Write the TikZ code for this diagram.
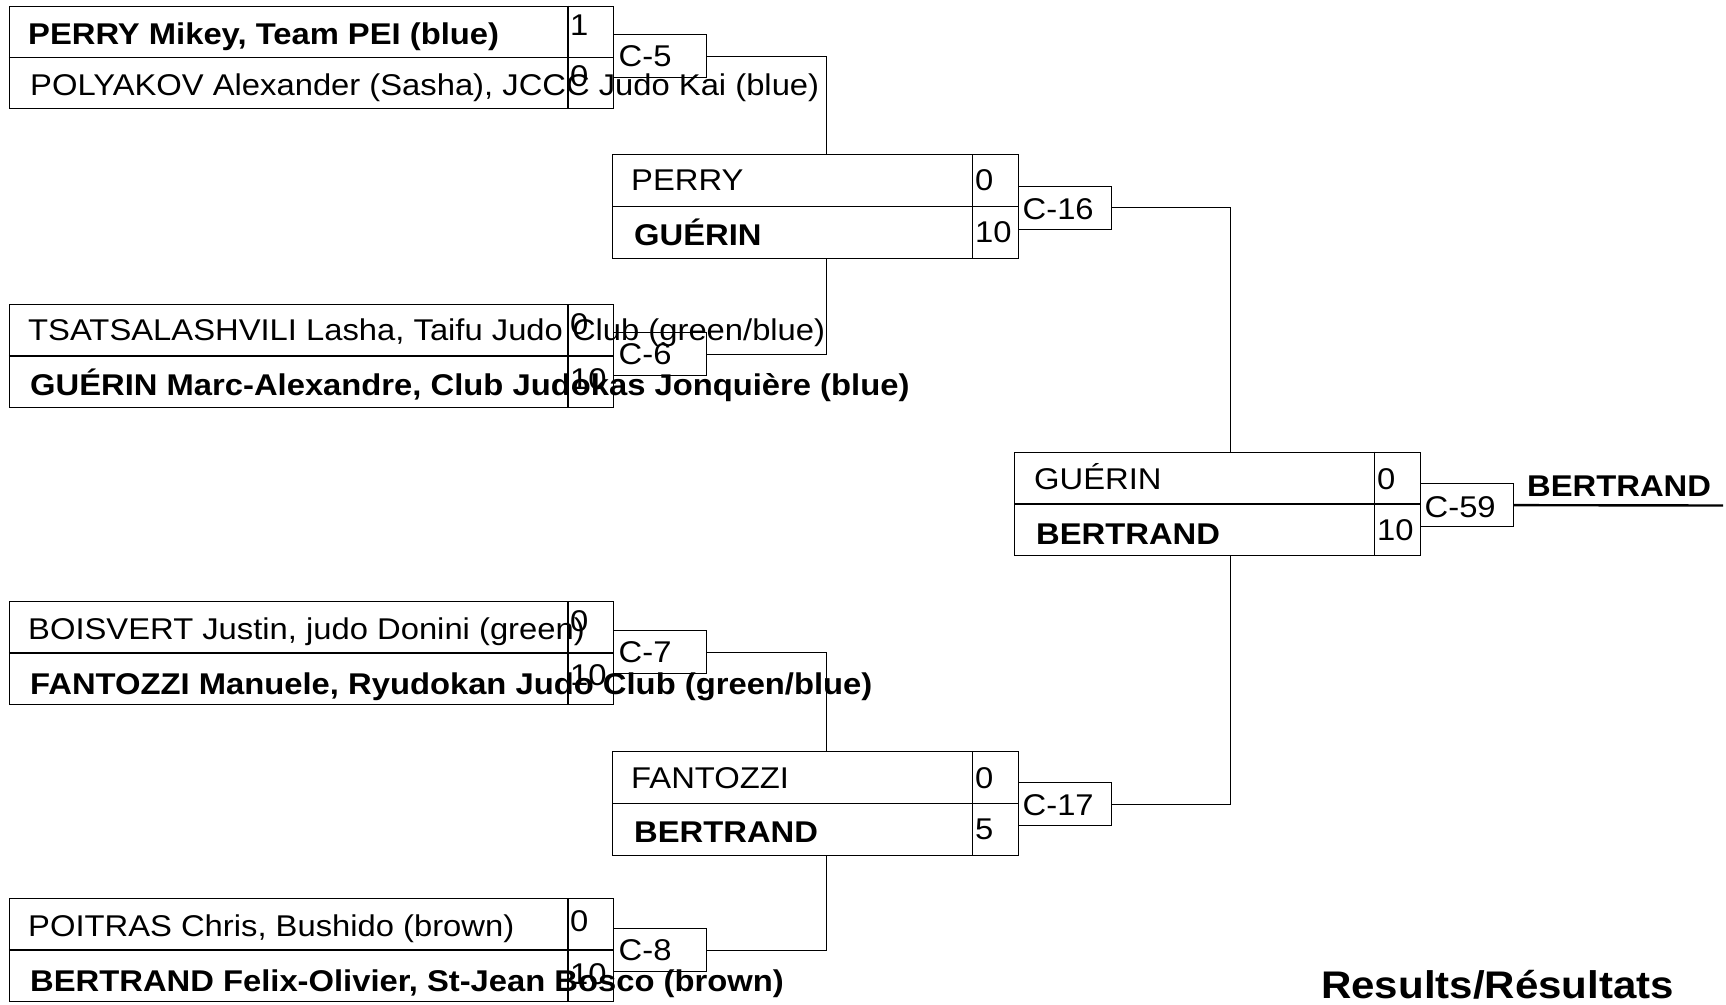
\documentclass[tikz,border=0pt]{standalone}
\usepackage{fontspec}
\setmainfont{Liberation Sans}[FakeStretch=1.092]
\newcommand\fsz{\fontsize{30}{30}\selectfont}
\newcommand\fbig{\fontsize{38.5}{38.5}\selectfont}
\tikzset{
  box/.style={draw, line width=1.3pt, inner sep=0pt, anchor=north west},
  pairbox/.style={box, minimum width=604pt, minimum height=102.5pt},
  rbox/.style={box, minimum width=406pt, minimum height=103.5pt},
  cbox/.style={box, minimum width=92.6pt, minimum height=43pt},
  ln/.style={line width=1.3pt},
  nm/.style={anchor=base west, inner sep=0pt, font=\fsz},
  nmb/.style={anchor=base west, inner sep=0pt, font=\fsz\bfseries},
}
\begin{document}
\begin{tikzpicture}[x=1pt,y=-1pt]
\useasboundingbox (0,0) rectangle (1726,1004);
% first-round pair boxes
\node[pairbox] (A) at (8.8,5.5) {};
\node[pairbox] (B) at (8.8,304) {};
\node[pairbox] (C) at (8.8,601) {};
\node[pairbox] (D) at (8.8,898) {};
\foreach \b in {A,B,C,D}{
  \draw[ln] (\b.west) -- (\b.east);
  \draw[ln] ([xshift=-46pt]\b.north east) -- ([xshift=-46pt]\b.south east);
}
% second-round and final boxes
\node[rbox] (R1) at (612,154) {};
\node[rbox] (R2) at (612,751) {};
\node[rbox] (F) at (1014,451.5) {};
\foreach \b in {R1,R2,F}{
  \draw[ln] (\b.west) -- (\b.east);
  \draw[ln] ([xshift=-47pt]\b.north east) -- ([xshift=-47pt]\b.south east);
}
% contest boxes
\node[cbox] (c5) at (613,34) {};
\node[cbox] (c6) at (613,332) {};
\node[cbox] (c7) at (613,630) {};
\node[cbox] (c8) at (613,928) {};
\node[cbox] (c16) at (1018,185.5) {};
\node[cbox] (c17) at (1018,782) {};
\node[cbox] (c59) at (1420,483) {};
\coordinate (win) at (1723,505.5);
% connectors
\draw[ln] (c5.east) -| ([xshift=10.5pt]R1.north);
\draw[ln] (c6.east) -| ([xshift=10.5pt]R1.south);
\draw[ln] (c7.east) -| ([xshift=10.5pt]R2.north);
\draw[ln] (c8.east) -| ([xshift=10.5pt]R2.south);
\draw[ln] (c16.east) -| ([xshift=12.5pt]F.north);
\draw[ln] (c17.east) -| ([xshift=12.5pt]F.south);
\draw[line width=2.4pt] (c59.east) -- (win);
% contest labels
\node[nm] (l5) at (618.5,66) {C-5};
\node[nm] (l6) at (618.5,364) {C-6};
\node[nm] (l7) at (618.5,662) {C-7};
\node[nm] (l8) at (618.5,960) {C-8};
\node[nm] (l16) at (1022.5,219) {C-16};
\node[nm] (l17) at (1022.5,815) {C-17};
\node[nm] (l59) at (1424.5,517) {C-59};
% first-round names
\node[nmb] (nA1) at (28,44) {PERRY Mikey, Team PEI (blue)};
\node[nm]  (nA2) at (30,95) {POLYAKOV Alexander (Sasha), JCCC Judo Kai (blue)};
\node[nm]  (nB1) at (28,340) {TSATSALASHVILI Lasha, Taifu Judo Club (green/blue)};
\node[nmb] (nB2) at (30,395) {GUÉRIN Marc-Alexandre, Club Judokas Jonquière (blue)};
\node[nm]  (nC1) at (28,639) {BOISVERT Justin, judo Donini (green)};
\node[nmb] (nC2) at (30,694) {FANTOZZI Manuele, Ryudokan Judo Club (green/blue)};
\node[nm]  (nD1) at (28,936) {POITRAS Chris, Bushido (brown)};
\node[nmb] (nD2) at (30,991) {BERTRAND Felix-Olivier, St-Jean Bosco (brown)};
% first-round scores
\node[nm] (sA1) at (570,35) {1};
\node[nm] (sA2) at (570,86) {0};
\node[nm] (sB1) at (570,334) {0};
\node[nm] (sB2) at (570,389) {10};
\node[nm] (sC1) at (570,631) {0};
\node[nm] (sC2) at (570,685) {10};
\node[nm] (sD1) at (570,931) {0};
\node[nm] (sD2) at (570,984) {10};
% second round
\node[nm]  (nR1a) at (631,190.5) {PERRY};
\node[nmb] (nR1b) at (634,245.5) {GUÉRIN};
\node[nm]  (sR1a) at (975,190.5) {0};
\node[nm]  (sR1b) at (975,242) {10};
\node[nm]  (nR2a) at (631,788) {FANTOZZI};
\node[nmb] (nR2b) at (634,842) {BERTRAND};
\node[nm]  (sR2a) at (975,788) {0};
\node[nm]  (sR2b) at (975,839) {5};
% final
\node[nm]  (nFa) at (1034,489) {GUÉRIN};
\node[nmb] (nFb) at (1036,544) {BERTRAND};
\node[nm]  (sFa) at (1377,489) {0};
\node[nm]  (sFb) at (1377,540.5) {10};
\node[nmb] (winner) at (1527,496.5) {BERTRAND};
% title
\node[anchor=base west, inner sep=0pt, font=\fbig\bfseries] (title) at (1321,998) {Results/Résultats};
\end{tikzpicture}
\end{document}
